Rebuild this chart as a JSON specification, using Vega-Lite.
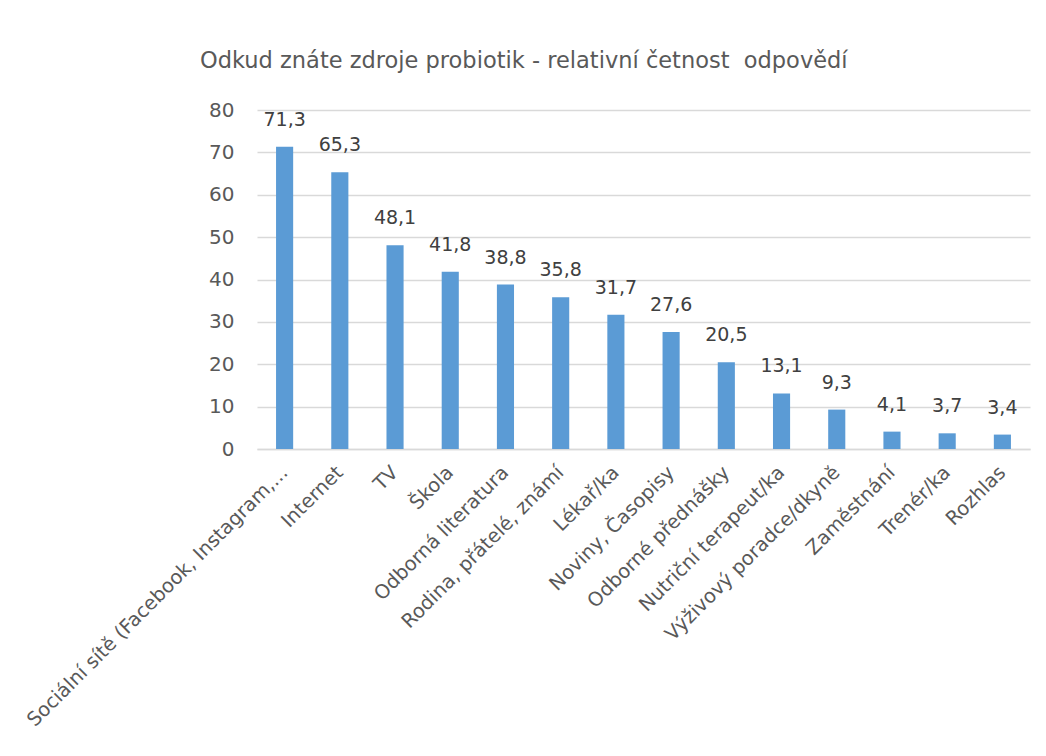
{
  "$schema": "https://vega.github.io/schema/vega-lite/v6.json",
  "autosize": {"type": "none"},
  "width": 773,
  "height": 339,
  "padding": {"left": 257, "top": 110, "right": 16, "bottom": 307},
  "background": "white",
  "config": {
    "locale": {"number": {"decimal": ",", "thousands": " ", "grouping": [3], "currency": ["", " Kč"]}},
    "view": {"stroke": null},
    "font": "DejaVu Sans"
  },
  "title": {
    "text": "Odkud znáte zdroje probiotik - relativní četnost \u00a0odpovědí",
    "anchor": "start",
    "frame": "group",
    "dx": -57,
    "offset": 28,
    "fontSize": 22.5,
    "fontWeight": "normal",
    "color": "#595959",
    "font": "DejaVu Sans"
  },
  "data": {
    "values": [
      {"zdroj": "Sociální sítě (Facebook, Instagram,...", "hodnota": 71.3},
      {"zdroj": "Internet", "hodnota": 65.3},
      {"zdroj": "TV", "hodnota": 48.1},
      {"zdroj": "Škola", "hodnota": 41.8},
      {"zdroj": "Odborná literatura", "hodnota": 38.8},
      {"zdroj": "Rodina, přátelé, známí", "hodnota": 35.8},
      {"zdroj": "Lékař/ka", "hodnota": 31.7},
      {"zdroj": "Noviny, Časopisy", "hodnota": 27.6},
      {"zdroj": "Odborné přednášky", "hodnota": 20.5},
      {"zdroj": "Nutriční terapeut/ka", "hodnota": 13.1},
      {"zdroj": "Výživový poradce/dkyně", "hodnota": 9.3},
      {"zdroj": "Zaměstnání", "hodnota": 4.1},
      {"zdroj": "Trenér/ka", "hodnota": 3.7},
      {"zdroj": "Rozhlas", "hodnota": 3.4}
    ]
  },
  "encoding": {
    "x": {
      "field": "zdroj",
      "type": "nominal",
      "sort": null,
      "scale": {"paddingInner": 0.69, "paddingOuter": 0.345},
      "axis": {
        "title": null,
        "labelAngle": -45,
        "labelAlign": "right",
        "labelBaseline": "middle",
        "labelPadding": 20,
        "labelFontSize": 19.5,
        "labelColor": "#595959",
        "labelLimit": 600,
        "ticks": false,
        "domainColor": "#D9D9D9",
        "domainWidth": 1.5,
        "grid": false
      }
    },
    "y": {
      "field": "hodnota",
      "type": "quantitative",
      "scale": {"domain": [0, 80], "nice": false},
      "axis": {
        "title": null,
        "values": [0, 10, 20, 30, 40, 50, 60, 70, 80],
        "labelFontSize": 20,
        "labelColor": "#595959",
        "labelPadding": 23,
        "ticks": false,
        "domain": false,
        "gridColor": "#D9D9D9",
        "gridWidth": 1.5
      }
    }
  },
  "layer": [
    {"mark": {"type": "bar", "color": "#5B9BD5"}},
    {
      "mark": {"type": "text", "dy": -21, "baseline": "alphabetic", "fontSize": 19, "color": "#404040"},
      "encoding": {"text": {"field": "hodnota", "type": "quantitative", "format": ".1f"}}
    }
  ]
}
